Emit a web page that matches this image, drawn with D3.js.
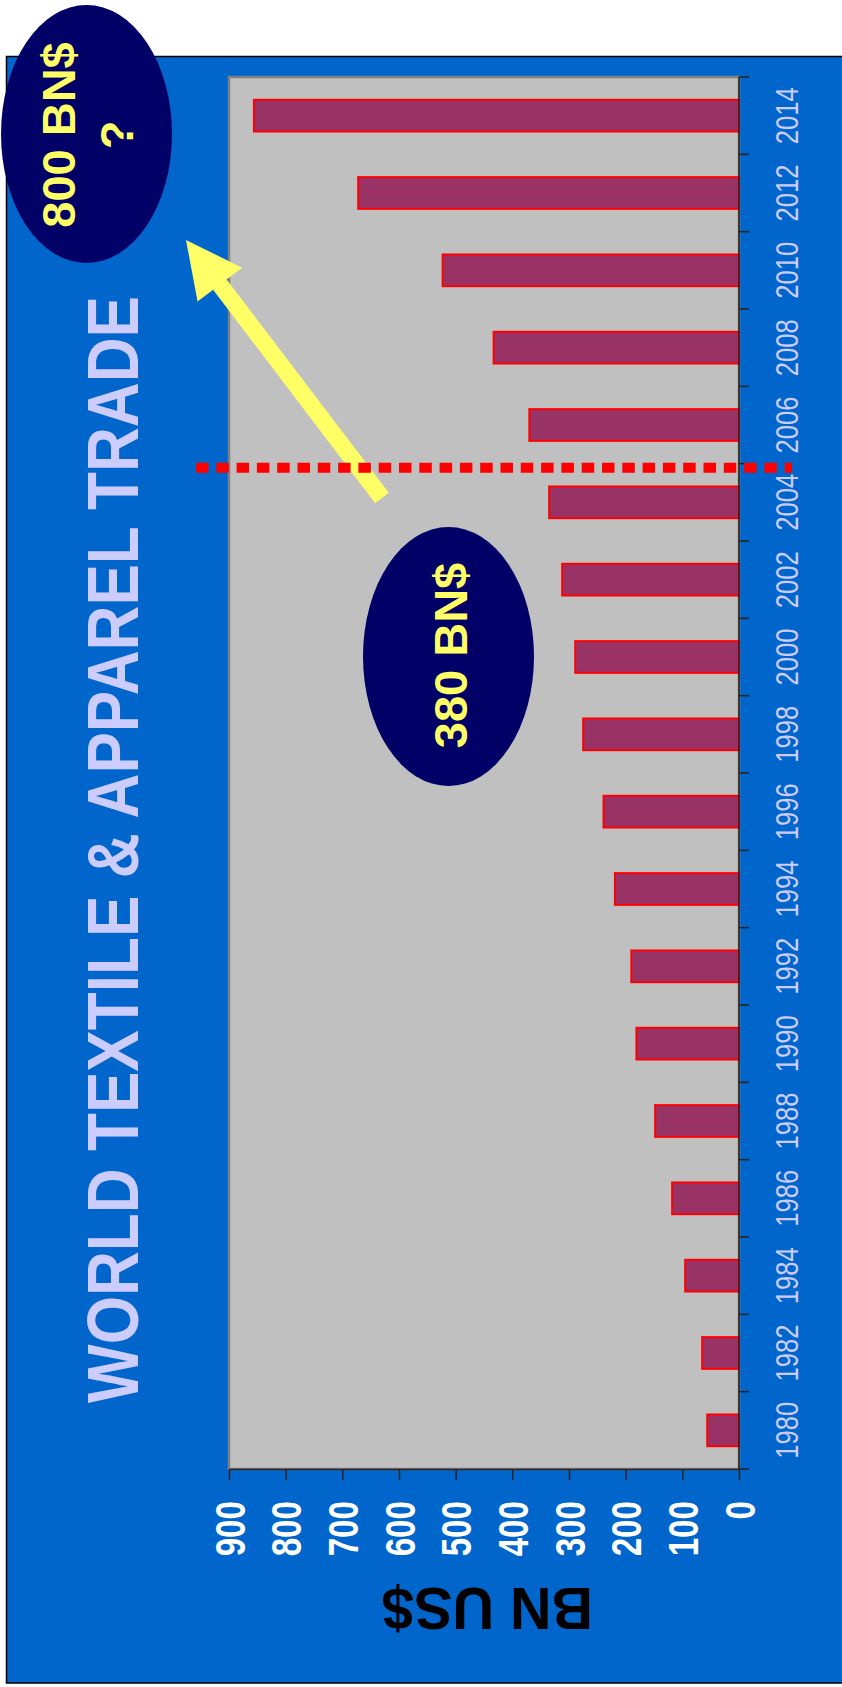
<!DOCTYPE html>
<html>
<head>
<meta charset="utf-8">
<script src="https://cdn.jsdelivr.net/npm/d3@7"></script>
<style>
  html, body { margin: 0; padding: 0; background: #ffffff; }
  svg { display: block; }
  text { font-family: "Liberation Sans", Arial, sans-serif; }
</style>
</head>
<body>
<script>
// ---------- data ----------
const years  = ["1980","1982","1984","1986","1988","1990","1992","1994","1996",
                "1998","2000","2002","2004","2006","2008","2010","2012","2014"];
const values = [56, 65, 95, 118, 148, 181, 190, 219, 239,
                275, 289, 312, 335, 370, 433, 523, 672, 856];
const valueTicks = [0, 100, 200, 300, 400, 500, 600, 700, 800, 900];
const titleText = "WORLD TEXTILE & APPAREL TRADE";
const axisTitle = "BN US$";
const bubbleNow = ["380 BN$"];
const bubbleFuture = ["800 BN$", "?"];
const markerYear = "2004";   // dotted line drawn just after this category

// ---------- layout ----------
const W = 842, H = 1687;
const plot = { left: 229, right: 739, top: 77, bottom: 1469 };

const svg = d3.select("body").append("svg")
  .attr("width", W).attr("height", H);

// blue panel
svg.append("rect")
  .attr("x", 6.5).attr("y", 56.5)
  .attr("width", 900).attr("height", 1683 - 56.5)
  .attr("fill", "#0066cc").attr("stroke", "#000").attr("stroke-width", 1.5);

// scales (chart is rotated: values run right->left, years bottom->top)
const x = d3.scaleLinear().domain([0, 900]).range([plot.right, plot.left]);
const y = d3.scaleBand().domain(years).range([plot.bottom, plot.top])
  .paddingInner(0.59).paddingOuter(0.295);

// plot area
svg.append("rect")
  .attr("x", plot.left).attr("y", plot.top)
  .attr("width", plot.right - plot.left).attr("height", plot.bottom - plot.top)
  .attr("fill", "#c0c0c0").attr("stroke", "#808080").attr("stroke-width", 2.5);

// bars
svg.append("g").selectAll("rect").data(years).join("rect")
  .attr("x", (d, i) => x(values[i]))
  .attr("y", d => y(d))
  .attr("width", (d, i) => x(0) - x(values[i]))
  .attr("height", y.bandwidth())
  .attr("fill", "#993366")
  .attr("stroke", "#ff0000")
  .attr("stroke-width", 2);

// value axis (bottom)
const xAxis = svg.append("g")
  .attr("transform", `translate(0,${plot.bottom})`)
  .call(d3.axisBottom(x).tickValues(valueTicks).tickSize(11).tickSizeOuter(0));
xAxis.select(".domain").attr("stroke", "#222").attr("stroke-width", 1.5);
xAxis.selectAll(".tick line").attr("stroke", "#222").attr("stroke-width", 1.5);
xAxis.selectAll(".tick text")
  .attr("x", null).attr("y", null).attr("dy", null)
  .attr("transform", "translate(15,32) rotate(-90) scale(0.79,1)")
  .attr("text-anchor", "end")
  .attr("fill", "#ffffff")
  .style("font-size", "42px")
  .style("font-weight", "bold")
  .style("font-family", "'Liberation Sans', Arial, sans-serif");

// year axis (right)
const step = y.step(), bw = y.bandwidth();
const yAxis = svg.append("g")
  .attr("transform", `translate(${plot.right},0)`)
  .call(d3.axisRight(y).tickSize(0).tickSizeOuter(0));
yAxis.select(".domain").remove();
yAxis.selectAll(".tick text")
  .attr("x", null).attr("dy", null)
  .attr("transform", "translate(59,0) rotate(-90) scale(0.8,1)")
  .attr("text-anchor", "middle")
  .attr("fill", "#ccccff")
  .style("font-size", "32px")
  .style("font-family", "'Liberation Sans', Arial, sans-serif");
const boundaries = years.map(d => y(d) + bw / 2 + step / 2)
  .concat([y(years[years.length - 1]) + bw / 2 - step / 2]);
svg.append("g").selectAll("line").data(boundaries).join("line")
  .attr("x1", plot.right).attr("x2", plot.right + 10)
  .attr("y1", d => d).attr("y2", d => d)
  .attr("stroke", "#222").attr("stroke-width", 1.5);
svg.append("line")
  .attr("x1", plot.right).attr("x2", plot.right)
  .attr("y1", plot.top).attr("y2", plot.bottom)
  .attr("stroke", "#222").attr("stroke-width", 1.5);

// title
svg.append("text")
  .attr("transform", "translate(138,849.5) rotate(-90)")
  .attr("text-anchor", "middle")
  .attr("textLength", 1107).attr("lengthAdjust", "spacingAndGlyphs")
  .attr("fill", "#ccccff")
  .style("font-size", "72px").style("font-weight", "bold")
  .text(titleText);

// axis title (upside-down)
svg.append("text")
  .attr("transform", "translate(487.5,1588) rotate(180)")
  .attr("text-anchor", "middle")
  .attr("textLength", 211).attr("lengthAdjust", "spacingAndGlyphs")
  .attr("fill", "#000000")
  .style("font-size", "60px").style("font-weight", "bold")
  .text(axisTitle);

// arrow
(function () {
  const tip = [186, 240], tail = [382, 498];
  const dx = tip[0] - tail[0], dy = tip[1] - tail[1];
  const L = Math.hypot(dx, dy);
  const ux = dx / L, uy = dy / L, nx = -uy, ny = ux;
  const hl = 56, hw = 28, sw = 8.5;
  const bx = tip[0] - ux * hl, by = tip[1] - uy * hl;
  const pts = [
    tip,
    [bx + nx * hw, by + ny * hw],
    [bx + nx * sw, by + ny * sw],
    [tail[0] + nx * sw, tail[1] + ny * sw],
    [tail[0] - nx * sw, tail[1] - ny * sw],
    [bx - nx * sw, by - ny * sw],
    [bx - nx * hw, by - ny * hw]
  ];
  svg.append("polygon")
    .attr("points", pts.map(p => p.join(",")).join(" "))
    .attr("fill", "#ffff66");
})();

// dotted marker line
const markerY = y(markerYear) + bw / 2 - step / 2 + 4;
svg.append("line")
  .attr("x1", 196).attr("x2", 792)
  .attr("y1", markerY).attr("y2", markerY)
  .attr("stroke", "#ff0000").attr("stroke-width", 10)
  .attr("stroke-dasharray", "12.5,7.8");

// bubbles
function bubble(cx, cy, rx, ry, lines, baseX, lineGap, textCy) {
  svg.append("ellipse")
    .attr("cx", cx).attr("cy", cy).attr("rx", rx).attr("ry", ry)
    .attr("fill", "#000066");
  lines.forEach((t, i) => {
    svg.append("text")
      .attr("transform", `translate(${baseX + i * lineGap},${textCy}) rotate(-90)`)
      .attr("text-anchor", "middle")
      .attr("fill", "#ffff66")
      .style("font-size", "47px").style("font-weight", "bold")
      .text(t);
  });
}
bubble(448.5, 656.5, 85.5, 129.5, bubbleNow, 467, 0, 655.5);
bubble(86.5, 134, 85.5, 129, bubbleFuture, 75, 58, 135);
</script>
</body>
</html>
